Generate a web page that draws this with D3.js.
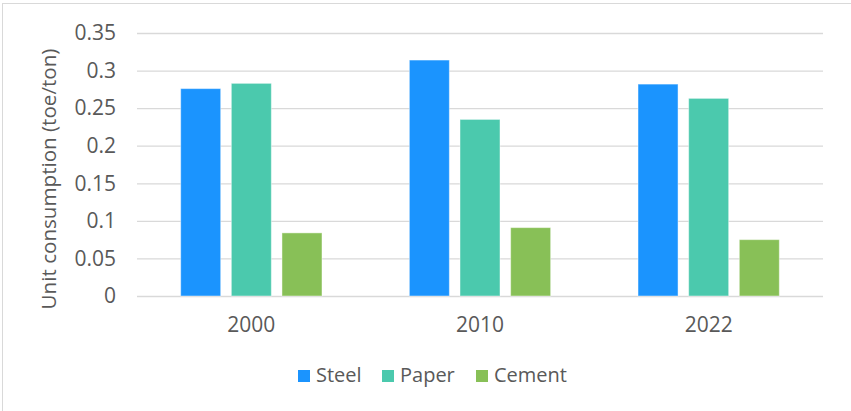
<!DOCTYPE html>
<html>
<head>
<meta charset="utf-8">
<script src="https://cdn.jsdelivr.net/npm/d3@7"></script>
<style>
  html, body { margin: 0; padding: 0; background: #fff; }
  svg { display: block; }
  text { font-family: "Open Sans", "Noto Sans", sans-serif; fill: #595959; }
</style>
</head>
<body>
<svg id="chart" width="851" height="411"></svg>
<script>
// Unit energy consumption by industry (toe per ton of product)
const years = ["2000", "2010", "2022"];
const seriesNames = ["Steel", "Paper", "Cement"];
const steel = [0.276, 0.314, 0.282];
const paper = [0.283, 0.235, 0.263];
const cement = [0.084, 0.091, 0.075];
const yTicks = [0, 0.05, 0.1, 0.15, 0.2, 0.25, 0.3, 0.35];
const colors = ["#1b94fe", "#4bc9ad", "#88c057"];

const seriesValues = [steel, paper, cement];

const svg = d3.select("#chart");
const W = 851, H = 411;
const plot = { left: 137, right: 823, top: 33, bottom: 296 };
const FS = 21;

// outer chart frame
svg.append("rect")
  .attr("x", 2.5).attr("y", 3.5)
  .attr("width", W + 10).attr("height", H + 10)
  .attr("fill", "#fff").attr("stroke", "#d9d9d9").attr("stroke-width", 1);

const y = d3.scaleLinear().domain([0, 0.35]).range([plot.bottom, plot.top]);
const x0 = d3.scaleBand().domain(years).range([plot.left, plot.right]);
const clusterWidth = 141.3;
const x1 = d3.scaleBand().domain(seriesNames).range([0, clusterWidth]).paddingInner(0.21).paddingOuter(0);
const groupOffset = (x0.bandwidth() - clusterWidth) / 2;

// gridlines and y tick labels
const yAxis = d3.axisLeft(y).tickValues(yTicks).tickSize(-(plot.right - plot.left)).tickPadding(21)
  .tickFormat(d => d === 0 ? "0" : String(+d.toFixed(2)));
const gy = svg.append("g").attr("transform", `translate(${plot.left},0)`).call(yAxis);
gy.select(".domain").remove();
gy.selectAll(".tick line").attr("stroke", "#d9d9d9").attr("stroke-width", 1.3)
  .filter(d => d === 0).attr("stroke-width", 1.6);
gy.selectAll(".tick text").attr("font-size", FS).style("fill", "#595959");

// bars
const groups = svg.append("g").selectAll("g").data(years).join("g")
  .attr("transform", d => `translate(${x0(d) + groupOffset},0)`);
groups.selectAll("rect")
  .data((d, i) => seriesNames.map((s, j) => ({ s, v: seriesValues[j][i], c: colors[j] })))
  .join("rect")
  .attr("x", d => x1(d.s))
  .attr("width", x1.bandwidth())
  .attr("y", d => y(d.v))
  .attr("height", d => y(0) - y(d.v))
  .attr("fill", d => d.c)
  .attr("stroke", "#ffffff").attr("stroke-opacity", 0.45).attr("stroke-width", 1);

// x axis labels
const xAxis = d3.axisBottom(x0).tickSize(0).tickPadding(21);
const gx = svg.append("g").attr("transform", `translate(0,${plot.bottom})`).call(xAxis);
gx.select(".domain").remove();
gx.selectAll(".tick text").attr("font-size", FS).style("fill", "#595959");

// y axis title
svg.append("text")
  .attr("transform", "translate(48,179) rotate(-90)")
  .attr("text-anchor", "middle").attr("dominant-baseline", "central")
  .attr("font-size", 20.6)
  .text("Unit consumption (toe/ton)");

// legend
const legendX = [298, 382, 476];
const lg = svg.append("g").selectAll("g").data(seriesNames).join("g")
  .attr("transform", (d, i) => `translate(${legendX[i]},370)`);
lg.append("rect").attr("width", 12).attr("height", 12).attr("fill", (d, i) => colors[i]);
lg.append("text").attr("x", 18).attr("y", 12).attr("font-size", 20).text(d => d);
</script>
</body>
</html>
